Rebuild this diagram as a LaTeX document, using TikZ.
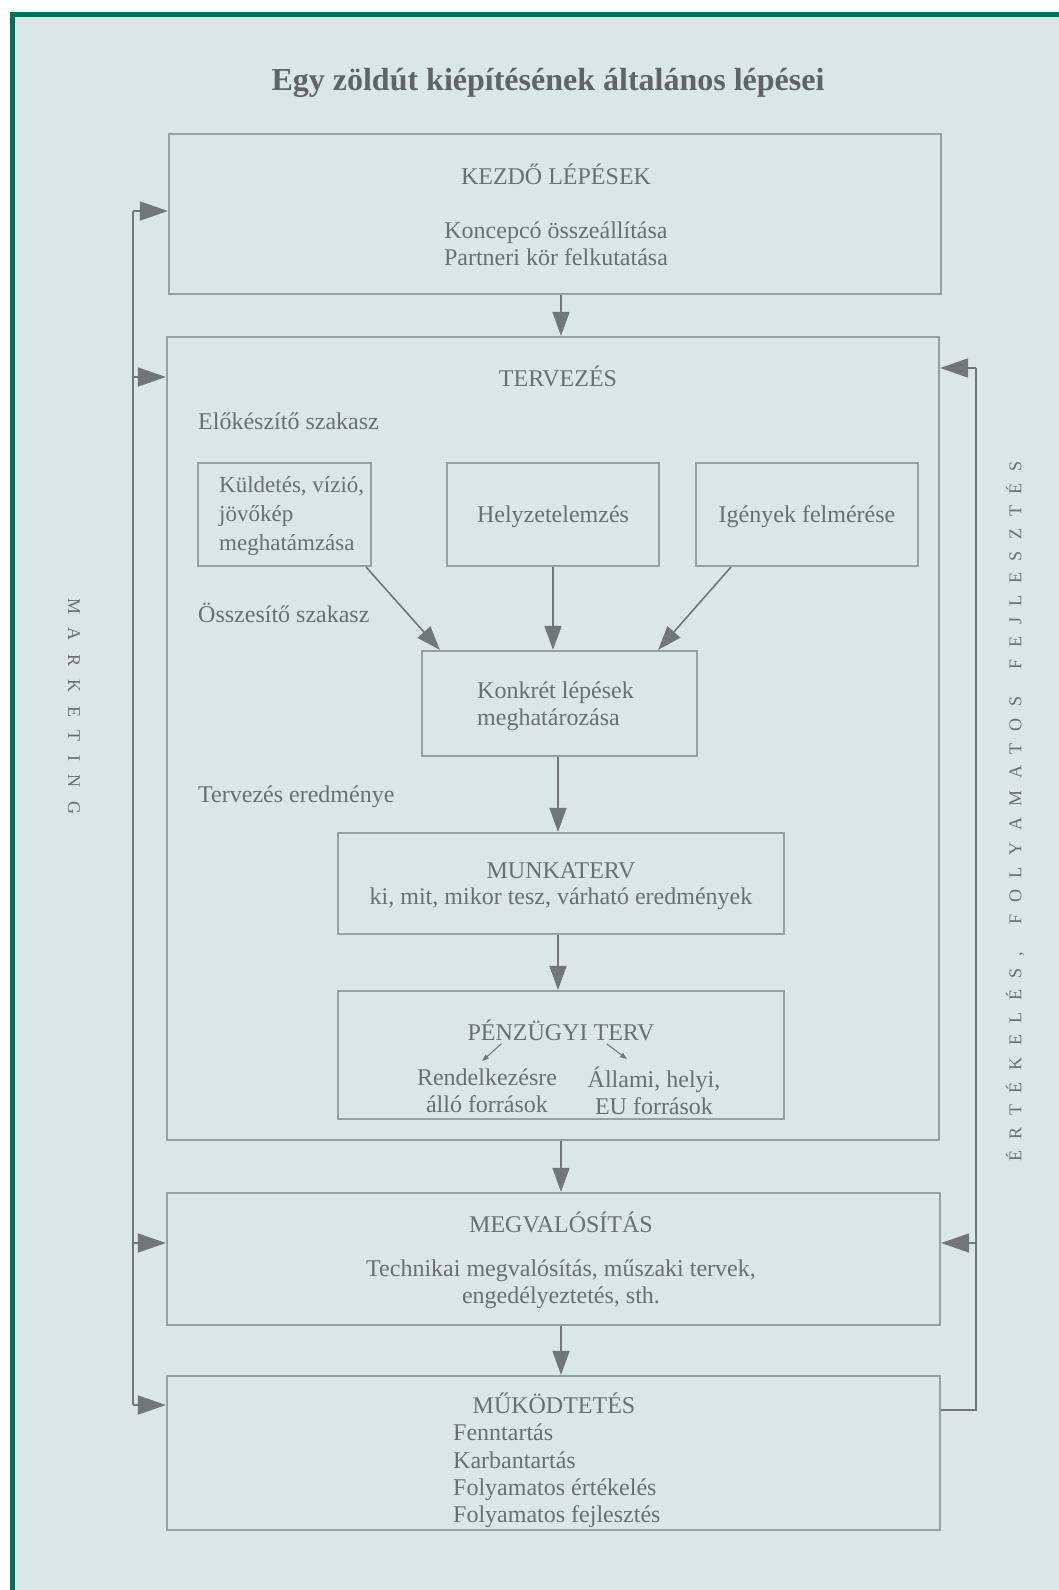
\documentclass[tikz,border=0pt]{standalone}
\usepackage{fontspec}
\setmainfont{Liberation Serif}
\usetikzlibrary{arrows.meta,calc}
\definecolor{bgc}{RGB}{217,232,230}
\definecolor{framec}{RGB}{0,112,90}
\definecolor{boxc}{RGB}{150,162,160}
\definecolor{txtc}{RGB}{105,112,111}
\definecolor{arrc}{RGB}{112,119,118}
\definecolor{ttlc}{RGB}{95,101,100}
\makeatletter
\newcommand\lspaced[2]{\@tfor\lsch:=#2\do{\lsch\hspace{#1}}\hspace{-#1}}
\makeatother
\begin{document}
\begin{tikzpicture}[x=1pt,y=-1pt,
  boxs/.style={draw=boxc,line width=2.2pt,inner sep=0pt,rectangle},
  tx/.style={text=txtc,font=\fontsize{24}{26.5}\selectfont,inner sep=0pt},
  arr/.style={draw=arrc,line width=1.6pt,-{Triangle[length=28pt,width=19pt]},color=arrc},
  darr/.style={draw=arrc,line width=1.6pt,-{Triangle[length=24pt,width=17pt]},color=arrc},
  sarr/.style={draw=arrc,line width=1pt,-{Triangle[length=7pt,width=5pt]},color=arrc},
  ln/.style={draw=arrc,line width=1.6pt},
  vtx/.style={text=txtc,font=\fontsize{18}{20}\selectfont,inner sep=0pt}]
\useasboundingbox (0,0) rectangle (1059,1590);
\fill[white] (0,0) rectangle (1059,1590);
\fill[bgc] (12,14) rectangle (1059,1590);
\fill[framec] (10,12) rectangle (1059,17);
\fill[framec] (10,12) rectangle (15,1590);

% title
\node[text=ttlc,font=\fontsize{32}{38}\selectfont\bfseries,inner sep=0pt] (title) at (548,83) {Egy zöldút kiépítésének általános lépései};

% boxes
\node[boxs,minimum width=772pt,minimum height=160pt] (kezdo) at (555,214) {};
\node[boxs,minimum width=772pt,minimum height=803pt] (terv) at (553,738.5) {};
\node[boxs,minimum width=173pt,minimum height=103pt] (kuld) at (284.5,514.5) {};
\node[boxs,minimum width=212pt,minimum height=103pt] (helyz) at (553,514.5) {};
\node[boxs,minimum width=222pt,minimum height=103pt] (igeny) at (807,514.5) {};
\node[boxs,minimum width=275pt,minimum height=105pt] (konk) at (559.5,703.5) {};
\node[boxs,minimum width=446pt,minimum height=101pt] (munka) at (561,883.5) {};
\node[boxs,minimum width=446pt,minimum height=128pt] (penz) at (561,1055) {};
\node[boxs,minimum width=773pt,minimum height=132pt] (megv) at (553.5,1259) {};
\node[boxs,minimum width=773pt,minimum height=154pt] (mukod) at (553.5,1453) {};

% texts
\node[tx] (kezdoT) at (556,174) {KEZDŐ LÉPÉSEK};
\node[tx,align=center] (kezdoL) at (556,244) {Koncepcó összeállítása\\Partneri kör felkutatása};
\node[tx] (tervT) at (558,376) {TERVEZÉS};
\node[tx,anchor=west] (elok) at (198,421) {Előkészítő szakasz};
\node[tx,align=left,anchor=west,font=\fontsize{23}{29}\selectfont] (kuldT) at (219,516) {Küldetés, vízió,\\jövőkép\\meghatámzása};
\node[tx] (helyzT) at (553,517) {Helyzetelemzés};
\node[tx] (igenyT) at (807,517) {Igények felmérése};
\node[tx,anchor=west] (ossz) at (198,613) {Összesítő szakasz};
\node[tx,align=left,anchor=west] (konkT) at (477,706) {Konkrét lépések\\meghatározása};
\node[tx,anchor=west] (tered) at (198,797) {Tervezés eredménye};
\node[tx,align=center] (munkaT) at (561,886) {MUNKATERV\\ki, mit, mikor tesz, várható eredmények};
\node[tx] (penzT) at (561,1030) {PÉNZÜGYI TERV};
\node[tx,align=center] (rend) at (487,1091) {Rendelkezésre\\álló források};
\node[tx,align=center] (allami) at (654,1091) {Állami, helyi,\\EU források};
\node[tx] (megvT) at (561,1222) {MEGVALÓSÍTÁS};
\node[tx,align=center] (megvL) at (561,1284) {Technikai megvalósítás, műszaki tervek,\\engedélyeztetés, sth.};
\node[tx] (mukodT) at (554,1403) {MŰKÖDTETÉS};
\node[tx,align=left,anchor=west,font=\fontsize{24}{27.3}\selectfont] (mukodL) at (453,1476) {Fenntartás\\Karbantartás\\Folyamatos értékelés\\Folyamatos fejlesztés};

% side texts
\node[vtx,rotate=-90] (mark) at (74,713) {\lspaced{13.5pt}{MARKETING}};
\node[vtx,rotate=90] (ertek) at (1015,806) {\lspaced{11.6pt}{ÉRTÉKELÉS,~FOLYAMATOS~FEJLESZTÉS}};

% vertical flow arrows
\draw[darr] (kezdo.south -| munka.north) -- (terv.north -| munka.north);
\draw[darr] (helyz.south) -- (helyz.south |- konk.north);
\draw[darr] ([xshift=-6pt]kuld.south east) -- ([xshift=19pt]konk.north west);
\draw[darr] ([xshift=36pt]igeny.south west) -- ([xshift=-40pt]konk.north east);
\draw[darr] ([xshift=-3pt]konk.south -| munka.north) -- ([xshift=-3pt]munka.north);
\draw[darr] ([xshift=-3pt]munka.south) -- ([xshift=-3pt]penz.north);
\draw[darr] (terv.south -| munka.north) -- (megv.north -| munka.north);
\draw[darr] (megv.south -| munka.north) -- (mukod.north -| munka.north);

% small arrows in financial plan
\draw[sarr] ([xshift=34pt,yshift=-3pt]penzT.south west) -- ([xshift=-5pt,yshift=8pt]rend.north);
\draw[sarr] ([xshift=-48pt,yshift=-3pt]penzT.south east) -- ([xshift=-27pt,yshift=8pt]allami.north);

% left marketing line
\coordinate (l1) at (133,211);
\coordinate (l2) at (133,377);
\coordinate (l3) at (133,1243);
\coordinate (l4) at (133,1405);
\draw[ln] (l1) -- (l4);
\draw[arr] (l1) -- (l1 -| kezdo.west);
\draw[arr] (l2) -- (l2 -| terv.west);
\draw[arr] (l3) -- (l3 -| megv.west);
\draw[arr] (l4) -- (l4 -| mukod.west);

% right feedback line
\coordinate (r0) at (976,1410);
\coordinate (r1) at (976,368);
\coordinate (r2) at (976,1243);
\draw[ln] (r0 -| mukod.east) -- (r0) -- (r1);
\draw[arr] (r1) -- (r1 -| terv.east);
\draw[arr] (r2) -- (r2 -| megv.east);
\end{tikzpicture}
\end{document}
